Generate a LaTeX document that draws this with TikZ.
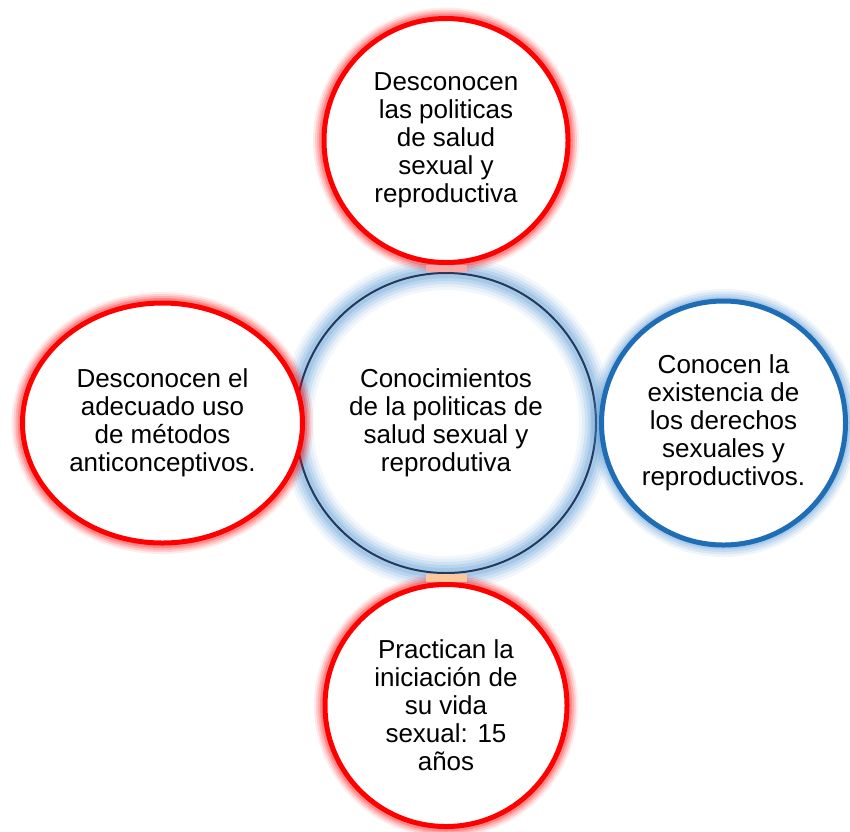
\documentclass[tikz,border=0pt]{standalone}
\usepackage{fontspec}
\setmainfont{Liberation Sans}
\usetikzlibrary{positioning,shapes.geometric}
\definecolor{ringred}{HTML}{FF0000}
\definecolor{ringblue}{HTML}{1F6DB5}
\definecolor{ringnavy}{HTML}{26395A}
\definecolor{glowblue}{HTML}{5B9BD5}
\definecolor{linkpink}{HTML}{F9A8A8}
\definecolor{linkpeach}{HTML}{FCC89E}

\tikzset{
  bubble/.style={circle, fill=white, align=center, inner sep=0pt,
    font=\fontsize{26}{28}\selectfont},
  redglow/.style={
    preaction={draw=ringred, opacity=.08, line width=22pt},
    preaction={draw=ringred, opacity=.12, line width=18pt},
    preaction={draw=ringred, opacity=.16, line width=14pt},
    preaction={draw=ringred, opacity=.22, line width=10pt}},
  blueglow/.style={
    preaction={draw=glowblue, opacity=.10, line width=24pt},
    preaction={draw=glowblue, opacity=.14, line width=19pt},
    preaction={draw=glowblue, opacity=.18, line width=14pt},
    preaction={draw=glowblue, opacity=.24, line width=9pt}},
  redring/.style={bubble, redglow, draw=ringred, line width=5pt},
  bluering/.style={bubble, blueglow, draw=ringblue, line width=5pt},
  hubring/.style={circle, align=center, inner sep=0pt, draw=ringnavy, line width=2pt,
    font=\fontsize{26}{28}\selectfont,
    preaction={draw=glowblue, opacity=.08, line width=34pt},
    preaction={draw=glowblue, opacity=.10, line width=28pt},
    preaction={draw=glowblue, opacity=.14, line width=22pt},
    preaction={draw=glowblue, opacity=.18, line width=16pt},
    preaction={draw=glowblue, opacity=.22, line width=10pt}},
  link/.style={line width=41pt}
}

\begin{document}
\begin{tikzpicture}[x=1pt,y=-1pt]
  \useasboundingbox (0,0) rectangle (850,831);

  % hub
  \node[hubring, minimum size=300pt] (ctr) at (446,423)
    {Conocimientos\\de la politicas de\\salud sexual y\\reprodutiva};

  % satellites
  \node[redring, minimum size=244pt, above=7pt of ctr] (top)
    {Desconocen\\las politicas\\de salud\\sexual y\\reproductiva};
  \node[redring, minimum size=242pt, below=8pt of ctr] (bot)
    {Practican la\\iniciación de\\su vida\\sexual: 15\\años};
  \node[redring, ellipse, minimum width=280pt, minimum height=240pt,
    left=-10pt of ctr] (lft)
    {Desconocen el\\adecuado uso\\de métodos\\anticonceptivos.};
  \node[bluering, minimum size=244pt, right=2pt of ctr] (rgt)
    {Conocen la\\existencia de\\los derechos\\sexuales y\\reproductivos.};

  % links
  \draw[link, linkpink] (top) -- (ctr);
  \draw[link, linkpeach] (ctr) -- (bot);
\end{tikzpicture}
\end{document}
